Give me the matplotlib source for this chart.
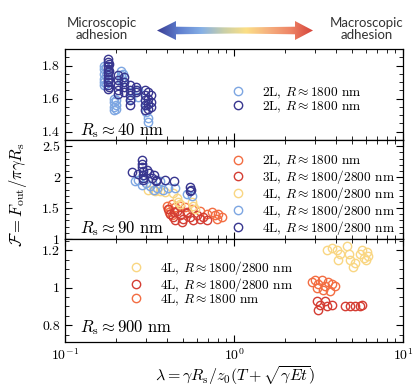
import numpy as np
import matplotlib
matplotlib.use("Agg")
import matplotlib.pyplot as plt
from matplotlib.colors import LinearSegmentedColormap
from matplotlib.patches import Polygon
from matplotlib.ticker import FuncFormatter, MultipleLocator, NullFormatter

plt.rcParams['font.family'] = 'cmr10'
plt.rcParams['mathtext.fontset'] = 'cm'
plt.rcParams['axes.unicode_minus'] = False
plt.rcParams['axes.formatter.use_mathtext'] = True

# colores
c_lblue = '#7da6e2'
c_dblue = '#38368f'
c_yel = '#f9d682'
c_ora = '#f36d42'
c_red = '#d43d33'

# ---- panel 1, Rs ~ 40 nm ----
lam1_a = [0.17, 0.17, 0.17, 0.17, 0.17, 0.17, 0.175, 0.175, 0.175,
          0.195, 0.195, 0.195, 0.195, 0.2, 0.2, 0.2,
          0.215, 0.215, 0.215, 0.22, 0.22, 0.245, 0.245, 0.27, 0.27,
          0.30, 0.30, 0.31, 0.31]
F1_a = [1.80, 1.78, 1.75, 1.72, 1.70, 1.68, 1.79, 1.74, 1.69,
        1.60, 1.58, 1.55, 1.53, 1.59, 1.56, 1.54,
        1.77, 1.74, 1.71, 1.75, 1.70, 1.64, 1.60, 1.65, 1.61,
        1.56, 1.52, 1.48, 1.46]

lam1_b = [0.18, 0.18, 0.18, 0.18, 0.18, 0.18, 0.18, 0.18, 0.18, 0.18,
          0.183, 0.183, 0.183, 0.183,
          0.207, 0.207, 0.207, 0.207, 0.207,
          0.222, 0.222, 0.222, 0.222,
          0.243, 0.243, 0.243, 0.243, 0.243,
          0.263, 0.263, 0.263,
          0.297, 0.297, 0.297, 0.297, 0.297,
          0.31, 0.31, 0.31, 0.31,
          0.322, 0.322, 0.322]
F1_b = [1.84, 1.82, 1.80, 1.78, 1.76, 1.74, 1.72, 1.70, 1.68, 1.66,
        1.81, 1.77, 1.72, 1.67,
        1.74, 1.71, 1.68, 1.65, 1.63,
        1.73, 1.70, 1.67, 1.64,
        1.68, 1.65, 1.62, 1.59, 1.56,
        1.67, 1.65, 1.64,
        1.65, 1.62, 1.59, 1.56, 1.53,
        1.64, 1.60, 1.57, 1.54,
        1.62, 1.58, 1.55]

# ---- panel 2, Rs ~ 90 nm ----
lam2_ora = [0.40, 0.414, 0.428, 0.448, 0.479, 0.513, 0.562, 0.628, 0.688,
            0.737, 0.77, 0.808, 0.845, 0.79, 0.41, 0.43]
F2_ora = [1.54, 1.49, 1.57, 1.52, 1.54, 1.52, 1.49, 1.46, 1.41,
          1.44, 1.39, 1.41, 1.36, 1.33, 1.44, 1.39]

lam2_red = [0.409, 0.417, 0.438, 0.458, 0.479, 0.501, 0.524, 0.548, 0.575,
            0.60, 0.628, 0.657, 0.688, 0.448, 0.49, 0.53, 0.44]
F2_red = [1.49, 1.41, 1.36, 1.46, 1.39, 1.33, 1.44, 1.36, 1.31,
          1.39, 1.33, 1.36, 1.31, 1.31, 1.28, 1.42, 1.44]

lam2_yel = [0.311, 0.341, 0.365, 0.438, 0.458, 0.468, 0.562, 0.575, 0.588,
            0.479, 0.33, 0.39]
F2_yel = [1.80, 1.78, 1.78, 1.75, 1.67, 1.59, 1.59, 1.54, 1.49,
          1.57, 1.79, 1.76]

lam2_lb = [0.272, 0.284, 0.318, 0.349, 0.365, 0.381, 0.409, 0.448, 0.524,
           0.562, 0.30, 0.26, 0.335]
F2_lb = [1.96, 1.88, 1.85, 1.83, 1.93, 1.80, 1.83, 1.83, 1.72,
         1.70, 1.90, 1.93, 1.80]

lam2_db = [0.248, 0.27, 0.285, 0.285, 0.285, 0.29, 0.29, 0.29, 0.29,
           0.305, 0.315, 0.325, 0.335, 0.345, 0.345, 0.39, 0.44,
           0.55, 0.56, 0.55]
F2_db = [2.09, 2.05, 2.27, 2.21, 2.16, 2.10, 2.04, 1.99, 1.95,
         2.11, 2.06, 1.98, 2.03, 1.96, 1.93, 1.96, 1.93,
         1.84, 1.80, 1.77]

# ---- panel 3, Rs ~ 900 nm ----
lam3_yel = [3.54, 3.79, 4.05, 4.26, 4.14, 4.65, 4.77, 4.87, 5.2, 5.09,
            5.57, 5.7, 5.86, 6.1, 6.0, 6.2]
F3_yel = [1.20, 1.21, 1.20, 1.18, 1.15, 1.22, 1.18, 1.15, 1.13, 1.11,
          1.18, 1.20, 1.16, 1.19, 1.15, 1.17]

lam3_ora = [2.88, 3.02, 3.16, 3.3, 3.45, 3.62, 3.79, 3.96, 3.38, 3.7, 3.09]
F3_ora = [1.03, 1.04, 1.02, 1.04, 1.01, 1.03, 1.02, 1.01, 0.99, 0.98, 1.00]

lam3_red = [3.09, 3.23, 3.16, 3.45, 3.53, 3.79, 4.54, 4.87, 5.2, 5.57, 5.7]
F3_red = [0.93, 0.91, 0.88, 0.93, 0.90, 0.91, 0.90, 0.90, 0.90, 0.90, 0.905]

etiq1 = [r'2L, $R\approx 1800$ nm', r'2L, $R\approx 1800$ nm']
etiq2 = [r'2L, $R\approx 1800$ nm', r'3L, $R\approx 1800/2800$ nm',
         r'4L, $R\approx 1800/2800$ nm', r'4L, $R\approx 1800/2800$ nm',
         r'4L, $R\approx 1800/2800$ nm']
etiq3 = [r'4L, $R\approx 1800/2800$ nm', r'4L, $R\approx 1800/2800$ nm',
         r'4L, $R\approx 1800$ nm']

W, H = 414, 388
fig = plt.figure(figsize=(W/100, H/100), dpi=100)

# flecha con degradado arriba
axf = fig.add_axes([0, 0, 1, 1])
axf.axis('off')
cmap = LinearSegmentedColormap.from_list('flecha', ['#3a3d94', '#5f7fcf', '#86b0e6', '#c9cfa8',
                                                    '#fbdf86', '#f6b17f', '#ee8566', '#d6443a'])
yc = 30.5
verts = [(157, yc), (176, yc-9.5), (176, yc-3.8), (235, yc-3.0), (295, yc-3.8), (295, yc-9.5),
         (313, yc), (295, yc+9.5), (295, yc+3.8), (235, yc+3.0), (176, yc+3.8), (176, yc+9.5)]
poli = Polygon(verts, closed=True, facecolor='none', edgecolor='none')
axf.add_patch(poli)
grad = np.linspace(0, 1, 256).reshape(1, -1)
im = axf.imshow(grad, cmap=cmap, extent=[157, 313, yc+10, yc-10], aspect='auto')
im.set_clip_path(poli)
axf.set_xlim(0, W)
axf.set_ylim(H, 0)
fig.text(102/W, 1-29/H, 'Microscopic\nadhesion', ha='center', va='center', fontsize=9.5,
         family='Lato', color='#333333', linespacing=1.05)
fig.text(367/W, 1-29/H, 'Macroscopic\nadhesion', ha='center', va='center', fontsize=9.5,
         family='Lato', color='#333333', linespacing=1.05)

gs = fig.add_gridspec(3, 1, left=65/W, right=403/W, top=1-49/H, bottom=1-342/H,
                      hspace=0, height_ratios=[91, 99, 103])
ax1 = fig.add_subplot(gs[0])
ax2 = fig.add_subplot(gs[1], sharex=ax1)
ax3 = fig.add_subplot(gs[2], sharex=ax1)

kw = dict(ls='none', marker='o', mfc='none', ms=6, mew=1.0)

h1 = [ax1.plot(lam1_a, F1_a, color=c_lblue, **kw)[0],
      ax1.plot(lam1_b, F1_b, color=c_dblue, **kw)[0]]
h2 = [ax2.plot(lam2_ora, F2_ora, color=c_ora, **kw)[0],
      ax2.plot(lam2_red, F2_red, color=c_red, **kw)[0],
      ax2.plot(lam2_yel, F2_yel, color=c_yel, **kw)[0],
      ax2.plot(lam2_lb, F2_lb, color=c_lblue, **kw)[0],
      ax2.plot(lam2_db, F2_db, color=c_dblue, **kw)[0]]
h3 = [ax3.plot(lam3_yel, F3_yel, color=c_yel, **kw)[0],
      ax3.plot(lam3_red, F3_red, color=c_red, **kw)[0],
      ax3.plot(lam3_ora, F3_ora, color=c_ora, **kw)[0]]

legkw = dict(loc='upper left', frameon=False, fontsize=9.6, handlelength=1.0,
             handletextpad=1.3, borderpad=0, borderaxespad=0, labelspacing=-0.08,
             numpoints=1)
ax1.legend(h1, etiq1, bbox_to_anchor=(0.491, 0.60), **legkw)
ax2.legend(h2, etiq2, bbox_to_anchor=(0.491, 0.86), **legkw)
ax3.legend(h3, etiq3, bbox_to_anchor=(0.189, 0.81), **legkw)

ax1.text(0.045, 0.055, r'$R_{\rm s}\approx 40$ nm', transform=ax1.transAxes, fontsize=12)
ax2.text(0.045, 0.06, r'$R_{\rm s}\approx 90$ nm', transform=ax2.transAxes, fontsize=12)
ax3.text(0.045, 0.10, r'$R_{\rm s}\approx 900$ nm', transform=ax3.transAxes, fontsize=12)

ax1.set_xscale('log')
ax1.set_xlim(0.1, 10)
ax1.set_ylim(1.35, 1.9)
ax2.set_ylim(1.0, 2.6)
ax3.set_ylim(0.71, 1.26)

fmt = FuncFormatter(lambda v, p: '%g' % v)
for ax, mj, mn in [(ax1, 0.2, 0.05), (ax2, 0.5, 0.1), (ax3, 0.2, 0.05)]:
    ax.yaxis.set_major_locator(MultipleLocator(mj))
    ax.yaxis.set_minor_locator(MultipleLocator(mn))
    ax.yaxis.set_major_formatter(fmt)
    ax.tick_params(which='both', direction='in', top=True, right=True, labelsize=10)
    ax.tick_params(which='major', length=5, width=0.8)
    ax.tick_params(which='minor', length=3, width=0.6)
    ax.xaxis.set_minor_formatter(NullFormatter())
    for s in ax.spines.values():
        s.set_linewidth(0.9)
ax1.tick_params(labelbottom=False)
ax2.tick_params(labelbottom=False)
ax3.tick_params(axis='x', pad=4)

fig.text(235/W, 1-376/H, r'$\lambda = \gamma R_{\rm s}/z_0(T+\sqrt{\gamma E t})$',
         ha='center', va='center', fontsize=11.5)
fig.text(18/W, 1-195/H, r'$\mathcal{F} = F_{\rm out}/\pi\gamma R_{\rm s}$', rotation=90,
         ha='center', va='center', fontsize=12)

fig.savefig('out.png', dpi=100)
